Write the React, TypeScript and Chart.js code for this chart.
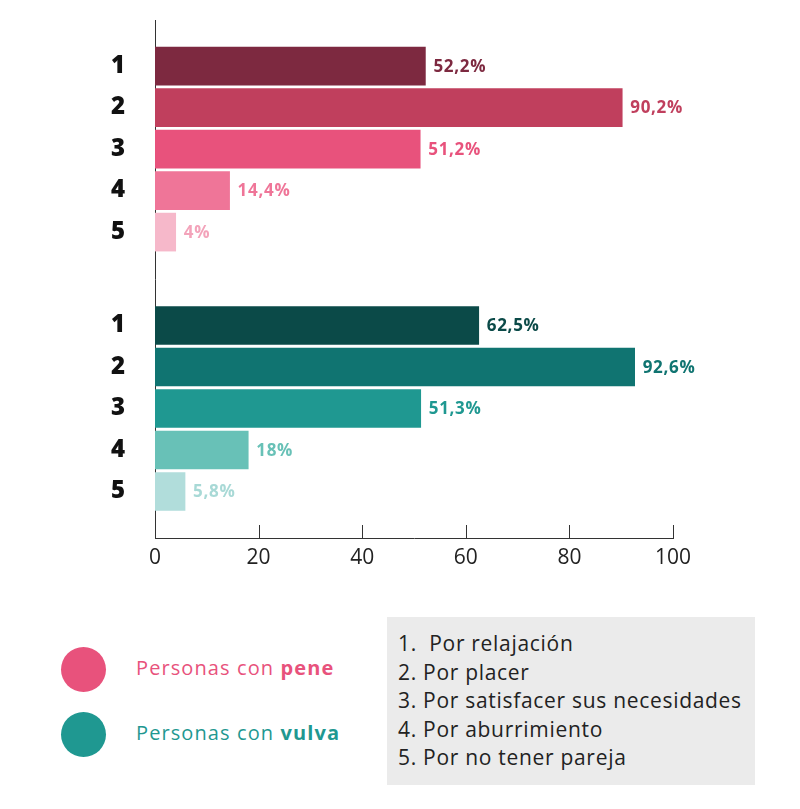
import React, { useEffect, useRef } from "react";
import { Chart, registerables } from "chart.js";

Chart.register(...registerables);

const categories = ["1", "2", "3", "4", "5"];
const peneValues = [52.2, 90.2, 51.2, 14.4, 4];
const vulvaValues = [62.5, 92.6, 51.3, 18, 5.8];
const peneColors = ["#7d2940", "#c03f5d", "#e8527c", "#ef7598", "#f6b8ca"];
const peneLabelColors = ["#7d2940", "#c03f5d", "#e8527c", "#ef7598", "#f3a3ba"];
const vulvaColors = ["#0b4a48", "#107471", "#1f9891", "#68c1b7", "#b1dddb"];
const vulvaLabelColors = ["#0b4a48", "#107471", "#1f9891", "#68c1b7", "#a8d9d6"];
const xTicks = [0, 20, 40, 60, 80, 100];
const reasons = [
  "1.\u00a0 Por relajación",
  "2. Por placer",
  "3. Por satisfacer sus necesidades",
  "4. Por aburrimiento",
  "5. Por no tener pareja",
];

const GROUP_OFFSET = 6.25;
const Y_MIN = -0.11;
const Y_MAX = 12.37;
const FONT = "'Open Sans', Lato, 'DejaVu Sans', sans-serif";
const TARGET = { left: 155, top: 20, right: 673, bottom: 538 };

const fmt = (v: number) => String(v).replace(".", ",") + "%";

export default function App() {
  const ref = useRef<HTMLCanvasElement | null>(null);

  useEffect(() => {
    if (!ref.current) return;
    const pinkPos = categories.map((_, i) => i + 1);
    const tealPos = categories.map((_, i) => i + 1 + GROUP_OFFSET);
    const allPos = [...pinkPos, ...tealPos];
    const allLabels = [...categories, ...categories];

    const labelPlugin = {
      id: "valueLabels",
      afterDatasetsDraw(chart: any) {
        const ctx = chart.ctx;
        ctx.save();
        ctx.font = `bold 17px ${FONT}`;
        try {
          (ctx as any).letterSpacing = "0.7px";
        } catch (e) {}
        ctx.textBaseline = "middle";
        ctx.textAlign = "left";
        chart.data.datasets.forEach((_ds: any, di: number) => {
          const meta = chart.getDatasetMeta(di);
          const cols = di === 0 ? peneLabelColors : vulvaLabelColors;
          const vals = di === 0 ? peneValues : vulvaValues;
          meta.data.forEach((bar: any, i: number) => {
            ctx.fillStyle = cols[i];
            ctx.fillText(fmt(vals[i]), bar.x + 8, bar.y + 1);
          });
        });
        ctx.restore();
      },
    };

    const tickPlugin = {
      id: "tickMarks",
      afterDraw(chart: any) {
        const ctx = chart.ctx;
        const xs = chart.scales.x;
        const bottom = chart.chartArea.bottom;
        ctx.save();
        ctx.strokeStyle = "#333";
        ctx.lineWidth = 1;
        xTicks.forEach((t) => {
          if (t === 0) return;
          const px = Math.round(xs.getPixelForValue(t)) + 0.5;
          ctx.beginPath();
          ctx.moveTo(px, bottom - 13);
          ctx.lineTo(px, bottom);
          ctx.stroke();
        });
        ctx.restore();
      },
    };

    const padding = { left: 0, right: 127, top: 20, bottom: 30 };

    const chart = new Chart(ref.current, {
      type: "bar",
      data: {
        datasets: [
          {
            label: "Personas con pene",
            data: peneValues.map((v, i) => ({ x: v, y: pinkPos[i] })),
            backgroundColor: peneColors,
            barThickness: 38,
            grouped: false,
          } as any,
          {
            label: "Personas con vulva",
            data: vulvaValues.map((v, i) => ({ x: v, y: tealPos[i] })),
            backgroundColor: vulvaColors,
            barThickness: 38,
            grouped: false,
          } as any,
        ],
      },
      options: {
        indexAxis: "y",
        animation: false,
        responsive: false,
        maintainAspectRatio: false,
        layout: { padding },
        plugins: { legend: { display: false }, tooltip: { enabled: false } },
        scales: {
          x: {
            type: "linear",
            min: 0,
            max: 100,
            afterBuildTicks: (axis: any) => {
              axis.ticks = xTicks.map((v) => ({ value: v }));
              axis.min = 0;
              axis.max = 100;
            },
            grid: { display: false, drawTicks: false },
            border: { display: true, color: "#333", width: 1 },
            ticks: {
              padding: 7,
              color: "#222",
              font: { family: FONT, size: 21 },
            },
          },
          y: {
            type: "linear",
            reverse: true,
            offset: false,
            min: Y_MIN,
            max: Y_MAX,
            afterBuildTicks: (axis: any) => {
              axis.ticks = allPos.map((v) => ({ value: v }));
              axis.min = Y_MIN;
              axis.max = Y_MAX;
            },
            afterFit: (s: any) => {
              s.width = 155;
              s.paddingTop = 0;
              s.paddingBottom = 0;
            },
            grid: { display: false, drawTicks: false },
            border: { display: true, color: "#333", width: 1 },
            ticks: {
              padding: 30,
              color: "#111",
              autoSkip: false,
              font: { family: FONT, size: 24, weight: "800" as any, lineHeight: 1 },
              callback: (_v: any, idx: number) => allLabels[idx],
            },
          },
        },
      } as any,
      plugins: [labelPlugin, tickPlugin],
    });

    for (let k = 0; k < 3; k++) {
      const ca = chart.chartArea;
      padding.top += TARGET.top - ca.top;
      padding.left += TARGET.left - ca.left;
      padding.right += ca.right - TARGET.right;
      padding.bottom += ca.bottom - TARGET.bottom;
      (chart.options as any).layout.padding = { ...padding };
      chart.update();
    }

    return () => chart.destroy();
  }, []);

  const legendText: React.CSSProperties = {
    position: "absolute",
    left: 136,
    fontFamily: FONT,
    fontSize: 20,
    letterSpacing: "1.1px",
    lineHeight: "24px",
    whiteSpace: "nowrap",
  };

  return (
    <div
      style={{
        position: "absolute",
        left: 0,
        top: 0,
        width: 800,
        height: 809,
        background: "#fff",
        fontFamily: FONT,
      }}
    >
      <canvas ref={ref} width={800} height={600} style={{ position: "absolute", left: 0, top: 0 }} />
      <div
        style={{
          position: "absolute",
          left: 61,
          top: 647,
          width: 45,
          height: 45,
          borderRadius: "50%",
          background: "#e8527c",
        }}
      />
      <div style={{ ...legendText, top: 656, color: "#e8527c" }}>
        Personas con <b>pene</b>
      </div>
      <div
        style={{
          position: "absolute",
          left: 61,
          top: 712,
          width: 45,
          height: 45,
          borderRadius: "50%",
          background: "#1f9891",
        }}
      />
      <div style={{ ...legendText, top: 721, color: "#1f9891" }}>
        Personas con <b>vulva</b>
      </div>
      <div
        style={{
          position: "absolute",
          left: 387,
          top: 617,
          width: 368,
          height: 168,
          background: "#ebebeb",
        }}
      >
        {reasons.map((r, i) => (
          <div
            key={i}
            style={{
              position: "absolute",
              left: 11,
              top: 13 + i * 28.5,
              fontSize: 21,
              letterSpacing: "0.7px",
              lineHeight: "26px",
              color: "#222",
              whiteSpace: "nowrap",
            }}
          >
            {r}
          </div>
        ))}
      </div>
    </div>
  );
}
